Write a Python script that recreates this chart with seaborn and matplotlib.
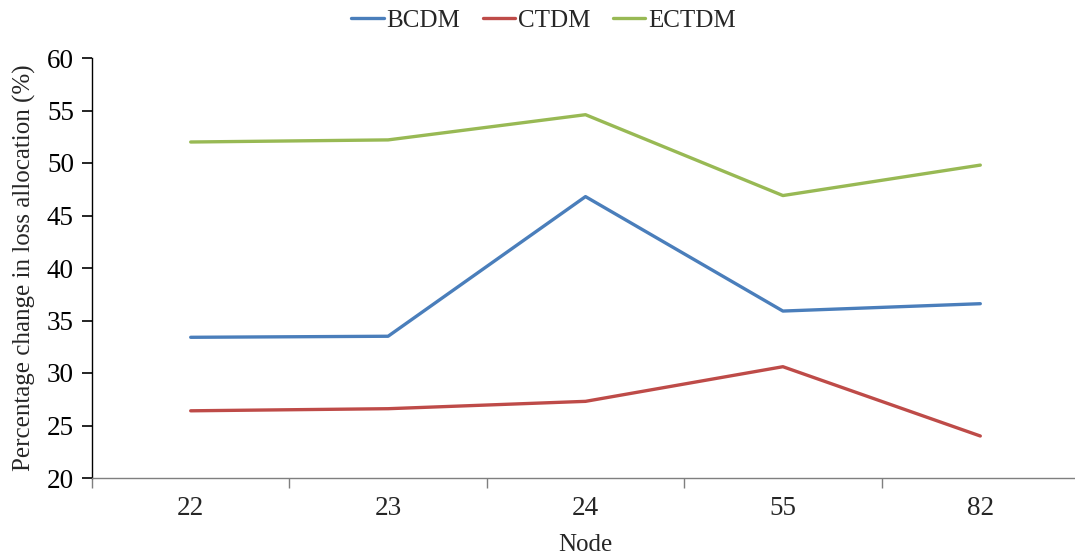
import matplotlib
matplotlib.use("Agg")
import matplotlib.pyplot as plt
import seaborn as sns
import pandas as pd

nodes = ["22", "23", "24", "55", "82"]
bcdm = [33.4, 33.5, 46.8, 35.9, 36.6]
ctdm = [26.4, 26.6, 27.3, 30.6, 24.0]
ectdm = [52.0, 52.2, 54.6, 46.9, 49.8]

series_names = ["BCDM", "CTDM", "ECTDM"]
colors = ["#4A7EBB", "#BE4B48", "#98B954"]

df = pd.DataFrame({
    "Node": nodes * 3,
    "value": bcdm + ctdm + ectdm,
    "Method": [n for n in series_names for _ in nodes],
})

sns.set_style("white")
plt.rcParams.update({
    "font.family": ["Liberation Serif", "DejaVu Serif"],
    "ytick.left": True,
    "ytick.major.size": 7,
    "ytick.major.width": 1.2,
    "ytick.color": "#000000",
    "ytick.direction": "out",
    "xtick.bottom": True,
    "xtick.minor.size": 7,
    "xtick.minor.width": 1.0,
})

fig = plt.figure(figsize=(10.75, 5.57), dpi=100)
ax = fig.add_axes([92 / 1075, 79 / 557, 987 / 1075, 420 / 557])

sns.lineplot(data=df, x="Node", y="value", hue="Method", palette=colors,
             linewidth=2.4, sort=False, ax=ax)

ax.set_xlim(-0.5, len(nodes) - 0.5)
ax.set_ylim(20, 60)
ax.set_yticks(range(20, 61, 5))
ax.set_xticks(range(len(nodes)))
ax.set_xticklabels(nodes)
ax.set_xticks([i + 0.5 for i in range(-1, len(nodes))], minor=True)

for side in ["top", "right"]:
    ax.spines[side].set_visible(False)
ax.spines["left"].set_color("#000000")
ax.spines["left"].set_linewidth(1.0)
ax.spines["bottom"].set_color("#7f7f7f")
ax.spines["bottom"].set_linewidth(1.0)

ax.tick_params(axis="y", which="major", left=True, direction="out", length=7,
               width=1.2, color="#000000", labelsize=19.5, pad=6)
ax.tick_params(axis="x", which="major", bottom=True, length=0, labelsize=19.5, pad=13)
ax.tick_params(axis="x", which="minor", bottom=True, direction="out", length=7,
               width=1, color="#7f7f7f")

ax.set_xlabel("Node", fontsize=18, labelpad=9)
ax.set_ylabel("Percentage change in loss allocation (%)", fontsize=18, labelpad=8)

handles, labels = ax.get_legend_handles_labels()
ax.legend(handles, labels, loc="upper center", bbox_to_anchor=(0.4575, 1.17),
          ncol=3, frameon=False, fontsize=18, handlelength=1.3,
          handletextpad=0.1, columnspacing=0.9)

fig.savefig("out.png", dpi=100)
